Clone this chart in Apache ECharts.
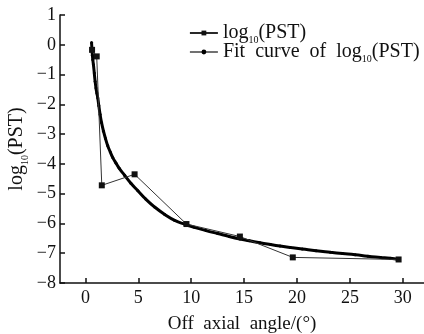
<!DOCTYPE html>
<html>
<head>
<meta charset="utf-8">
<script src="https://cdn.jsdelivr.net/npm/echarts@6/dist/echarts.min.js"></script>
<style>html,body{margin:0;padding:0;background:#fff}#c{width:424px;height:334px}</style>
</head>
<body>
<div id="c"></div>
<script>
// measured data: log10(PST)
const angleData = [0.63, 1.07, 1.55, 4.65, 9.55, 14.6, 19.6, 29.6];
const logPst = [-0.17, -0.39, -4.72, -4.35, -6.02, -6.44, -7.14, -7.21];
// fit curve
const fitX = [0.58, 0.62, 0.66, 0.7, 0.76, 0.84, 0.92, 1.0, 1.08, 1.17, 1.27, 1.39, 1.53, 1.71, 1.9, 2.1, 2.35, 2.59, 2.9, 3.2, 3.7, 4.3, 4.96, 5.7, 6.55, 7.5, 8.44, 9.4, 10.3, 11.4, 12.5, 13.6, 14.6, 15.5, 16.5, 17.5, 18.4, 19.4, 20.5, 21.8, 23.15, 24.3, 25.5, 26.7, 27.9, 28.8, 29.6];
const fitY = [0.08, -0.15, -0.35, -0.5, -0.67, -0.95, -1.23, -1.45, -1.62, -1.79, -2.05, -2.34, -2.62, -2.9, -3.15, -3.38, -3.6, -3.79, -3.98, -4.15, -4.38, -4.65, -4.9, -5.18, -5.45, -5.7, -5.9, -6.03, -6.13, -6.24, -6.34, -6.44, -6.52, -6.58, -6.65, -6.71, -6.76, -6.81, -6.86, -6.92, -6.97, -7.01, -7.05, -7.1, -7.14, -7.17, -7.21];
const xTicks = [0, 5, 10, 15, 20, 25, 30];
const yTicks = [1, 0, -1, -2, -3, -4, -5, -6, -7, -8];
const seriesNames = ['log10(PST)', 'Fit curve of log10(PST)'];

const FONT = '"Liberation Serif", "DejaVu Serif", serif';
const chart = echarts.init(document.getElementById('c'), null, {renderer: 'canvas'});
const sub = {fontSize: 10, fontFamily: FONT, color: '#111', verticalAlign: 'bottom', padding: [0, 0, -3, 0]};
chart.setOption({
  animation: false,
  grid: {left: 60, right: 0, top: 15, bottom: 51, outerBoundsMode: 'none', containLabel: false},
  legend: {
    orient: 'vertical', left: 189, top: 23, padding: 0, itemGap: -3, itemWidth: 28, itemHeight: 6,
    data: [
      {name: seriesNames[0], lineStyle: {width: 1.8, color: '#111'}},
      {name: seriesNames[1], lineStyle: {width: 1.2, color: '#111'}}
    ],
    formatter: n => n.replace('Fit curve of', 'Fit  curve  of ').replace('log10', 'log{s|10}'),
    textStyle: {fontFamily: FONT, fontSize: 20, lineHeight: 18, color: '#111', rich: {s: sub}}
  },
  xAxis: {
    type: 'value', min: -2.4, max: 32,
    name: 'Off  axial  angle/(°)', nameLocation: 'middle', nameGap: 32, nameMoveOverlap: false,
    nameTextStyle: {fontFamily: FONT, fontSize: 19, color: '#111'},
    axisLine: {show: true, onZero: false, lineStyle: {color: '#111', width: 1.5}},
    axisTick: {show: true, inside: true, length: 5, customValues: xTicks, lineStyle: {color: '#111', width: 1.5}},
    axisLabel: {customValues: xTicks, fontFamily: FONT, fontSize: 18, color: '#111', margin: 6},
    splitLine: {show: false}
  },
  yAxis: {
    type: 'value', min: -8, max: 1, interval: 1,
    name: 'log{s|10}(PST)', nameLocation: 'middle', nameGap: 33, nameMoveOverlap: false,
    nameTextStyle: {fontFamily: FONT, fontSize: 20, color: '#111', rich: {s: sub}},
    axisLine: {show: true, onZero: false, lineStyle: {color: '#111', width: 1.5}},
    axisTick: {show: true, inside: true, length: 5, lineStyle: {color: '#111', width: 1.5}},
    axisLabel: {fontFamily: FONT, fontSize: 18, color: '#111', margin: 4,
      formatter: v => String(v).replace('-', '\u2212')},
    splitLine: {show: false}
  },
  series: [
    {
      name: seriesNames[0], type: 'line',
      data: angleData.map((x, i) => [x, logPst[i]]),
      symbol: 'rect', symbolSize: 6,
      lineStyle: {color: '#333', width: 1},
      itemStyle: {color: '#111'}, z: 3
    },
    {
      name: seriesNames[1], type: 'line', smooth: true,
      data: fitX.map((x, i) => [x, fitY[i]]),
      symbol: 'circle', symbolSize: 3,
      lineStyle: {color: '#000', width: 3},
      itemStyle: {color: '#000'}, z: 2
    }
  ]
});
</script>
</body>
</html>
